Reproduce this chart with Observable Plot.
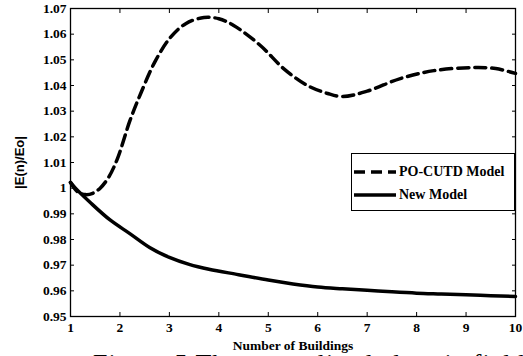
<!DOCTYPE html>
<html>
<head>
<meta charset="utf-8">
<script src="https://cdn.jsdelivr.net/npm/d3@7"></script>
<script src="https://cdn.jsdelivr.net/npm/@observablehq/plot@0.6"></script>
<style>
  html, body { margin: 0; padding: 0; background: #fff; overflow: hidden; }
  #wrap { position: relative; width: 523px; height: 356px; overflow: hidden; }
  #chart svg { display: block; }
  #chart g[aria-label="y-axis label"] text { font-family: "Liberation Sans", Arial, sans-serif; font-weight: bold; font-size: 13px; }
  #chart g[aria-label="x-axis label"] text { font-family: "Liberation Serif", "Times New Roman", serif; font-weight: bold; font-size: 13.5px; }
  #legend { position: absolute; left: 351px; top: 153px; width: 162px; height: 56px; border: 1px solid #000; background: #fff;
            font-family: "Liberation Serif", "Times New Roman", serif; font-weight: bold; font-size: 14px; }
  .item { position: absolute; left: 2px; display: flex; align-items: center; }
  .item svg { margin-right: 3px; }
  #caption { position: absolute; left: 93px; top: 351px; white-space: nowrap;
             font-family: "Liberation Serif", "Times New Roman", serif; font-size: 26px; line-height: 26px; letter-spacing: 1px; }
</style>
</head>
<body>
<div id="wrap">
  <div id="chart"></div>
  <div id="legend">
    <div class="item" style="top:10px"><svg width="42" height="8"><line x1="0" y1="4" x2="42" y2="4" stroke="#000" stroke-width="3.5" stroke-dasharray="11,6"/></svg><span id="l0"></span></div>
    <div class="item" style="top:33px"><svg width="42" height="8"><line x1="0" y1="4" x2="42" y2="4" stroke="#000" stroke-width="3.5"/></svg><span id="l1"></span></div>
  </div>
  <div id="caption"></div>
</div>
<script>
const seriesNames = ["PO-CUTD Model", "New Model"];
const xTicks = [1, 2, 3, 4, 5, 6, 7, 8, 9, 10];
const yTicks = [0.95, 0.96, 0.97, 0.98, 0.99, 1.00, 1.01, 1.02, 1.03, 1.04, 1.05, 1.06, 1.07];
const xLabel = "Number of Buildings";
const yLabel = "|E(n)/Eo|";
const captionText = "Figure 5 The normalized electric field";

const nPO = [1, 1.15, 1.3, 1.45, 1.6, 1.77, 1.95, 2.2, 2.42, 2.72, 3.02, 3.33, 3.7, 4.0, 4.3, 4.84, 5.31, 5.79, 6.2, 6.5, 7.0, 7.67, 8.35, 9.15, 9.6, 10];
const vPO = [1.0022, 0.9985, 0.9975, 0.9980, 1.0000, 1.0042, 1.0115, 1.0262, 1.0369, 1.0497, 1.0587, 1.0641, 1.0665, 1.0660, 1.0634, 1.0556, 1.0466, 1.0400, 1.0369, 1.0357, 1.0378, 1.0427, 1.0458, 1.0470, 1.0466, 1.0447];

const nNew = [1, 1.1, 1.4, 1.8, 2.2, 2.6, 3.0, 3.4, 3.8, 4.4, 5.0, 5.5, 6.0, 6.5, 7.0, 7.5, 8.0, 8.5, 9.0, 9.5, 10];
const vNew = [1.0023, 1.0000, 0.9944, 0.9876, 0.9823, 0.9769, 0.9730, 0.9703, 0.9684, 0.9663, 0.9642, 0.9627, 0.9615, 0.9608, 0.9602, 0.9596, 0.9591, 0.9588, 0.9585, 0.9581, 0.9578];

const po = nPO.map((n, i) => ({n, v: vPO[i]}));
const nw = nNew.map((n, i) => ({n, v: vNew[i]}));

const fmtY = d => String(+d.toFixed(2));
const tickFont = {fontFamily: "'Liberation Serif', 'Times New Roman', serif", fontWeight: "bold", fontSize: 13.5};

const chart = Plot.plot({
  width: 523,
  height: 356,
  marginLeft: 70,
  marginRight: 8,
  marginTop: 8,
  marginBottom: 40,
  style: {background: "#fff", color: "#000", overflow: "visible"},
  x: {domain: [1, 10]},
  y: {domain: [0.95, 1.07]},
  marks: [
    Plot.axisX({ticks: xTicks, anchor: "bottom", tickSize: -4, tickPadding: 10, tickFormat: d => String(d),
      label: xLabel, labelAnchor: "center", labelArrow: "none", labelOffset: 33, ...tickFont, strokeWidth: 1}),
    Plot.axisX({ticks: xTicks, anchor: "top", tickSize: -4, tickFormat: () => "", label: null, strokeWidth: 1}),
    Plot.axisY({ticks: yTicks, anchor: "left", tickSize: -4, tickPadding: 8, tickFormat: fmtY,
      label: yLabel, labelAnchor: "center", labelArrow: "none", labelOffset: 56, ...tickFont, strokeWidth: 1}),
    Plot.axisY({ticks: yTicks, anchor: "right", tickSize: -4, tickFormat: () => "", label: null, strokeWidth: 1}),
    Plot.frame({stroke: "#000", strokeWidth: 1.3}),
    Plot.line(po, {x: "n", y: "v", curve: "catmull-rom", stroke: "#000", strokeWidth: 3.5, strokeDasharray: "11,6"}),
    Plot.line(nw, {x: "n", y: "v", curve: "catmull-rom", stroke: "#000", strokeWidth: 3.5})
  ]
});
document.getElementById("chart").appendChild(chart);
document.getElementById("l0").textContent = seriesNames[0];
document.getElementById("l1").textContent = seriesNames[1];
document.getElementById("caption").textContent = captionText;
</script>
</body>
</html>
